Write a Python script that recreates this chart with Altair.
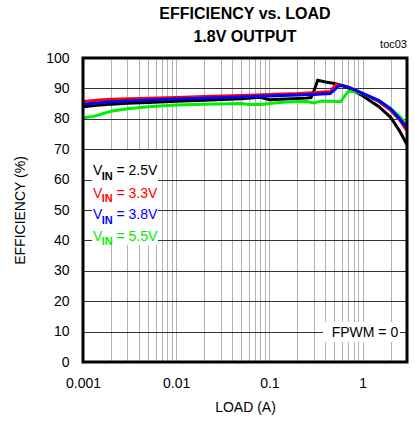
import altair as alt
import pandas as pd

# ---- data ----
black_load = [0.001, 0.0015, 0.002, 0.003, 0.005, 0.01, 0.02, 0.05, 0.08, 0.1, 0.15, 0.25, 0.28, 0.3, 0.33, 0.4, 0.5, 0.6, 0.7, 1.0, 1.5, 2.0, 2.5, 3.0]
black_eff = [84.0, 84.5, 84.8, 85.1, 85.4, 85.8, 86.1, 86.6, 87.1, 86.3, 86.5, 86.8, 87.0, 89.0, 92.7, 92.1, 91.6, 91.0, 90.2, 87.6, 84.0, 80.5, 76.0, 71.5]

red_load = [0.001, 0.0015, 0.002, 0.005, 0.01, 0.02, 0.05, 0.1, 0.2, 0.3, 0.45, 0.52, 0.6, 0.7, 1.0, 1.5, 2.0, 2.5, 3.0]
red_eff = [85.7, 86.2, 86.4, 86.8, 87.0, 87.3, 87.7, 88.0, 88.3, 88.6, 89.0, 91.3, 91.0, 90.5, 88.4, 85.6, 82.8, 79.6, 76.0]

blue_load = [0.001, 0.0015, 0.002, 0.005, 0.01, 0.02, 0.05, 0.1, 0.2, 0.3, 0.45, 0.5, 0.55, 0.6, 0.7, 1.0, 1.5, 2.0, 2.5, 3.0]
blue_eff = [84.8, 85.3, 85.6, 86.2, 86.5, 86.8, 87.2, 87.5, 87.8, 88.0, 88.3, 89.5, 90.8, 90.9, 90.4, 88.4, 86.0, 83.3, 80.0, 77.0]

green_load = [0.001, 0.0013, 0.002, 0.003, 0.005, 0.01, 0.02, 0.05, 0.06, 0.08, 0.1, 0.15, 0.25, 0.3, 0.35, 0.45, 0.58, 0.7, 0.8, 1.0, 1.5, 2.0, 2.5, 3.0]
green_eff = [80.3, 80.8, 82.5, 83.3, 84.0, 84.5, 84.8, 85.0, 84.7, 84.7, 85.0, 85.5, 85.7, 85.2, 85.8, 85.8, 85.6, 89.0, 89.0, 88.4, 86.0, 83.4, 80.8, 78.0]

series_names = ["2.5V", "3.3V", "3.8V", "5.5V"]
series_colors = ["#000000", "#ff0000", "#0000ff", "#00ee00"]

x_grid_values = [m * 10 ** e for e in (-3, -2, -1, 0) for m in range(1, 10) if m * 10 ** e <= 3]
x_grid_values = [round(v, 6) for v in x_grid_values]
y_values = list(range(0, 101, 10))

FONT = "Liberation Sans"

W, H = 324, 304

x_enc = alt.X(
    "load:Q",
    scale=alt.Scale(type="log", domain=[0.001, 3], nice=False),
    axis=alt.Axis(
        values=x_grid_values,
        labelExpr="indexof(['0.001','0.01','0.1','1'], format(datum.value, '~g')) >= 0 ? format(datum.value, '~g') : ''",
        grid=True, gridColor="#b4b4b4", gridWidth=1,
        ticks=False, domain=False, labelPadding=14,
        title="LOAD (A)", titlePadding=10,
        labelFlush=False, labelOverlap=False,
    ),
)
y_enc = alt.Y(
    "eff:Q",
    scale=alt.Scale(domain=[0, 100], nice=False),
    axis=alt.Axis(
        values=y_values, grid=True, gridColor="#333333", gridWidth=1.2,
        ticks=False, domain=False, labelPadding=14,
        title="EFFICIENCY (%)", titlePadding=18,
    ),
)

layers = []
data_sets = [(black_load, black_eff), (red_load, red_eff), (green_load, green_eff), (blue_load, blue_eff)]
order_idx = [0, 1, 3, 2]
for i, (ld, ef) in zip(order_idx, data_sets):
    df = pd.DataFrame({"load": ld, "eff": ef})
    layers.append(
        alt.Chart(df).mark_line(strokeWidth=3, color=series_colors[i], clip=True).encode(x=x_enc, y=y_enc)
    )

one = pd.DataFrame({"a": [0]})

def txt(text, x, y, size=14, color="black", weight="normal", align="left", baseline="alphabetic"):
    return alt.Chart(one).mark_text(
        text=text, font=FONT, fontSize=size, color=color, fontWeight=weight,
        align=align, baseline=baseline,
    ).encode(x=alt.value(x), y=alt.value(y))

def box(x1, x2, y1, y2):
    return alt.Chart(one).mark_rect(color="white").encode(
        x=alt.value(x1), x2=alt.value(x2), y=alt.value(y1), y2=alt.value(y2)
    )

# white backgrounds for in-plot annotations
layers.append(box(9, 75, 92, 187))
layers.append(box(240, 317, 264, 284))

row_y = [117, 139.5, 161, 182.5]
for name, col, yy in zip(series_names, series_colors, row_y):
    layers.append(txt("V", 10, yy, color=col))
    layers.append(txt("IN", 18.7, yy + 4.5, size=11, color=col, weight="bold"))
    layers.append(txt("= " + name, 33.5, yy, color=col))

layers.append(txt("FPWM = 0", 248.7, 278.7))

# plot frame on top
layers.append(
    alt.Chart(one).mark_rect(fillOpacity=0, stroke="black", strokeWidth=3).encode(
        x=alt.value(0), x2=alt.value(W), y=alt.value(0), y2=alt.value(H)
    )
)

# titles
layers.append(txt("EFFICIENCY vs. LOAD", W / 2, -38.7, size=16, weight="bold", align="center"))
layers.append(txt("1.8V OUTPUT", W / 2, -16.3, size=16, weight="bold", align="center"))
layers.append(txt("toc03", W, -10, size=11, align="right"))

chart = alt.layer(*layers).properties(
    width=W, height=H,
    autosize=alt.AutoSizeParams(type="none"),
    padding={"left": 83, "top": 58, "right": 8, "bottom": 63},
).configure_view(
    stroke=None
).configure_axis(
    labelFont=FONT, labelFontSize=14, labelColor="black",
    titleFont=FONT, titleFontSize=14, titleFontWeight="normal", titleColor="black",
)

chart.save("out.html", embed_options={"renderer": "svg", "actions": False})
